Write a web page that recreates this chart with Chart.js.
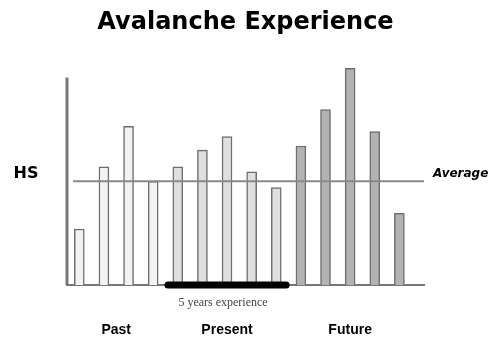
<!DOCTYPE html>
<html>
<head>
<meta charset="utf-8">
<script src="https://cdn.jsdelivr.net/npm/chart.js@4"></script>
<style>
  html, body { margin: 0; padding: 0; background: #fff; overflow: hidden; }
  canvas { display: block; }
</style>
</head>
<body>
<canvas id="avalancheChart" width="493" height="337"></canvas>
<script>
/*** Data ***/
const hsValues = [54, 114, 153, 100, 114, 130, 143, 109, 94, 134, 169, 209, 148, 69];
const periods = ['Past', 'Past', 'Past', 'Past',
                 'Present', 'Present', 'Present', 'Present', 'Present',
                 'Future', 'Future', 'Future', 'Future', 'Future'];
const periodLabels = ['Past', 'Present', 'Future'];
const averageHS = 100;
const axisTopHS = 200;
const experienceSpan = [4.6, 9.4];

/*** Colours ***/
const periodFill = { Past: '#f3f3f3', Present: '#dfdfdf', Future: '#b3b3b3' };

/*** Derived ***/
const barPoints = hsValues.map(function (v, i) { return { x: i + 1, y: v }; });
const periodCenters = periodLabels.map(function (p) {
    let idx = [];
    periods.forEach(function (q, i) { if (q === p) idx.push(i + 1); });
    return idx.reduce(function (a, b) { return a + b; }, 0) / idx.length;
});

/*** Extra labels (HS, Average, 5 years experience) ***/
const annotations = {
    id: 'annotations',
    afterDatasetsDraw: function (chart) {
        const ctx = chart.ctx;
        const xs = chart.scales.x;
        const ys = chart.scales.y;
        const avgY = ys.getPixelForValue(averageHS);
        ctx.save();
        ctx.fillStyle = '#000';
        ctx.textBaseline = 'middle';

        ctx.font = 'bold 16px "DejaVu Sans", sans-serif';
        ctx.textAlign = 'center';
        ctx.fillText('HS', 26, avgY - 7);

        ctx.font = 'italic bold 12px "DejaVu Sans", sans-serif';
        ctx.textAlign = 'left';
        ctx.fillText('Average', chart.chartArea.right + 9, avgY - 7);

        ctx.font = '12px "Liberation Serif", "Times New Roman", serif';
        ctx.fillStyle = '#444';
        ctx.textAlign = 'center';
        const midX = xs.getPixelForValue((experienceSpan[0] + experienceSpan[1]) / 2);
        ctx.fillText('5 years experience', midX - 4, ys.getPixelForValue(0) + 18);
        ctx.restore();
    }
};

/*** Chart ***/
new Chart(document.getElementById('avalancheChart'), {
    type: 'bar',
    data: {
        datasets: [
            {
                label: 'HS',
                data: barPoints,
                backgroundColor: periods.map(function (p) { return periodFill[p]; }),
                borderColor: '#6e6e6e',
                borderWidth: 1.5,
                barThickness: 10,
                order: 3
            },
            {
                type: 'line',
                label: 'Average',
                data: [{ x: 0.75, y: averageHS }, { x: 15, y: averageHS }],
                borderColor: '#888',
                borderWidth: 2,
                pointRadius: 0,
                clip: false,
                order: 1
            },
            {
                type: 'line',
                label: 'HS axis',
                data: [{ x: 0.5, y: 0 }, { x: 0.5, y: axisTopHS }],
                borderColor: '#777',
                borderWidth: 3,
                pointRadius: 0,
                clip: false,
                order: 2
            },
            {
                type: 'line',
                label: '5 years experience',
                data: [{ x: experienceSpan[0], y: 0 }, { x: experienceSpan[1], y: 0 }],
                borderColor: '#000',
                borderWidth: 7,
                borderCapStyle: 'round',
                pointRadius: 0,
                clip: false,
                order: 0
            }
        ]
    },
    options: {
        responsive: false,
        animation: false,
        layout: {
            padding: { left: 67, right: 69, top: 0, bottom: -38 }
        },
        plugins: {
            legend: { display: false },
            tooltip: { enabled: false },
            title: {
                display: true,
                text: 'Avalanche Experience',
                color: '#000',
                font: { family: '"DejaVu Sans", sans-serif', size: 24, weight: 'bold', lineHeight: 1.2 },
                padding: { top: 8, bottom: 20 }
            }
        },
        scales: {
            x: {
                type: 'linear',
                min: 0.5,
                max: 15,
                offset: false,
                grid: { display: false, drawTicks: false },
                border: { display: true, color: '#777', width: 2 },
                afterBuildTicks: function (axis) {
                    axis.ticks = periodCenters.map(function (v) { return { value: v }; });
                },
                ticks: {
                    autoSkip: false,
                    maxRotation: 0,
                    padding: 38,
                    color: '#000',
                    font: { family: '"Liberation Sans", Arial, sans-serif', size: 14, weight: 'bold', lineHeight: 1 },
                    callback: function (value) {
                        return periodLabels[periodCenters.indexOf(value)];
                    }
                }
            },
            y: {
                display: false,
                min: 0,
                max: 220
            }
        }
    },
    plugins: [annotations]
});
</script>
</body>
</html>
